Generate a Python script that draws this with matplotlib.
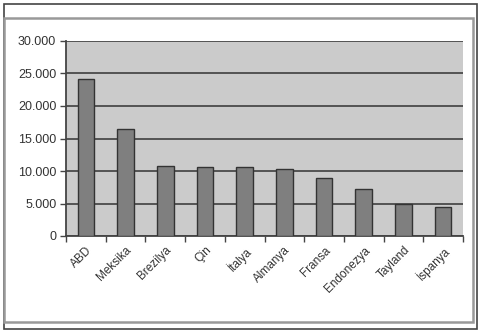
import matplotlib.pyplot as plt
from matplotlib.patches import Rectangle
from matplotlib.ticker import FuncFormatter, MultipleLocator
import numpy as np

plt.rcParams['font.family'] = ['Liberation Sans', 'DejaVu Sans']

countries = ["ABD", "Meksika", "Brezilya", "Çin", "İtalya", "Almanya",
             "Fransa", "Endonezya", "Tayland", "İspanya"]
values = [24200, 16500, 10800, 10600, 10600, 10300, 9000, 7300, 5000, 4500]

fig = plt.figure(figsize=(4.8, 3.31), dpi=100)

# outer frame and inner (screenshot-like) box
fig.patches.append(Rectangle((4 / 480, 1 - 329 / 331), 473 / 480, 325 / 331,
                             transform=fig.transFigure, fill=False,
                             edgecolor='#444444', lw=1.2))
fig.patches.append(Rectangle((4 / 480, 1 - 322 / 331), 469 / 480, 304 / 331,
                             transform=fig.transFigure, fill=False,
                             edgecolor='#999999', lw=1.8))

ax = fig.add_axes([66 / 480, 1 - 236 / 331, 397 / 480, 195 / 331])
ax.set_facecolor('#cbcbcb')

x = np.arange(len(countries))
ax.bar(x, values, width=0.42, color='#7f7f7f', edgecolor='#333333', lw=1, zorder=3)

ax.set_xlim(-0.5, len(countries) - 0.5)
ax.set_ylim(0, 30000)
ax.yaxis.set_major_locator(MultipleLocator(5000))
ax.yaxis.set_major_formatter(FuncFormatter(lambda v, p: f"{int(v):,}".replace(",", ".")))
ax.grid(axis='y', color='#4a4a4a', lw=1.3, zorder=1)

ax.set_xticks(x)
ax.set_xticklabels(countries, rotation=45, ha='right', rotation_mode='anchor')
ax.set_xticks(np.arange(-0.5, len(countries)), minor=True)
ax.tick_params(axis='x', which='major', length=0, pad=6, labelsize=8.5, labelcolor='#333333')
ax.tick_params(axis='x', which='minor', length=4, width=1, color='#444444', direction='out')
ax.tick_params(axis='y', length=4, width=1, color='#444444', labelsize=9, labelcolor='#333333', pad=3)

for s in ['top', 'right']:
    ax.spines[s].set_visible(False)
ax.spines['left'].set_color('#444444')
ax.spines['bottom'].set_color('#444444')
ax.spines['left'].set_linewidth(1.3)
ax.spines['bottom'].set_linewidth(1.3)

fig.savefig("out.png", dpi=100)
